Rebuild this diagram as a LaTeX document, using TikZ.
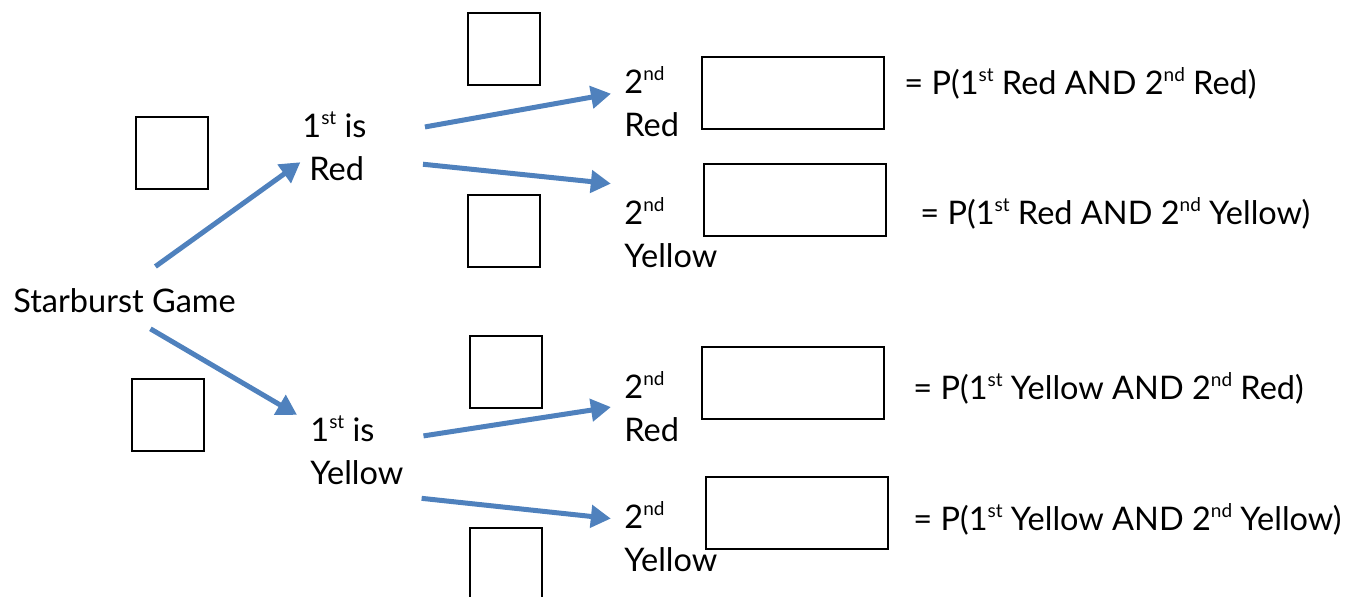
\documentclass[tikz,border=0pt]{standalone}
\usepackage{fontspec}
\setmainfont{Lato}
\usetikzlibrary{arrows.meta}

\definecolor{arrowblue}{RGB}{79,129,189}
\newcommand{\ordsup}[1]{\raisebox{6.6pt}{\fontsize{9.5}{9.5}\selectfont #1}}

\tikzset{
  lbl/.style={inner sep=0pt, align=left, font=\fontsize{16.25}{21.5}\selectfont},
  arr/.style={draw=arrowblue, line width=2.5pt, -{Triangle[length=10pt,width=11pt]}},
  smallbox/.style={draw, line width=1pt, minimum size=36pt, inner sep=0pt},
  bigbox/.style={draw, line width=1pt, minimum width=91pt, minimum height=36pt, inner sep=0pt}
}

\begin{document}
\begin{tikzpicture}[x=0.5pt, y=-0.5pt]
      \clip (0,0) rectangle (1357,597);

      % Root
      \node[lbl, anchor=base west] (game) at (13,313) {Starburst Game};

      % First pick (base = last line)
      \node[lbl, anchor=base west] (r1) at (302,181) {1\ordsup{st} is\\\hspace{3.5pt}Red};
      \node[lbl, anchor=base west] (y1) at (310,485) {1\ordsup{st} is\\Yellow};

      % Second pick
      \node[lbl, anchor=base west] (r2) at (624,137) {2\ordsup{nd}\\Red};
      \node[lbl, anchor=base west] (y2) at (624,268) {2\ordsup{nd}\\Yellow};
      \node[lbl, anchor=base west] (r3) at (624,442) {2\ordsup{nd}\\Red};
      \node[lbl, anchor=base west] (y3) at (624,572) {2\ordsup{nd}\\Yellow};

      % Blank boxes for the probabilities
      \node[smallbox] (pr1) at (171.5,153.5) {};
      \node[smallbox] (py1) at (168,415.5) {};
      \node[smallbox] (prr) at (504,49) {};
      \node[smallbox] (pry) at (504,231) {};
      \node[smallbox] (pyr) at (506,372.5) {};
      \node[smallbox] (pyy) at (506,564) {};

      % Products
      \node[bigbox] (brr) at (793,93) {};
      \node[bigbox] (bry) at (795,200.5) {};
      \node[bigbox] (byr) at (793,383) {};
      \node[bigbox] (byy) at (796.5,513.5) {};

      \node[lbl, anchor=base west] (err) at (904,95) {= P(1\ordsup{st} Red AND 2\ordsup{nd} Red)};
      \node[lbl, anchor=base west] (ery) at (920,225) {= P(1\ordsup{st} Red AND 2\ordsup{nd} Yellow)};
      \node[lbl, anchor=base west] (eyr) at (913,400) {= P(1\ordsup{st} Yellow AND 2\ordsup{nd} Red)};
      \node[lbl, anchor=base west] (eyy) at (913,531) {= P(1\ordsup{st} Yellow AND 2\ordsup{nd} Yellow)};

      % Branches
      \draw[arr, shorten <=19pt, shorten >=1pt] (game.north) -- (r1.204);
      \draw[arr, shorten <=15pt, shorten >=7.5pt] (game.south) -- (y1.149);
      \draw[arr, shorten <=29.5pt, shorten >=6.6pt] (r1.16) -- (r2.159);
      \draw[arr, shorten <=28.2pt, shorten >=6.6pt] (r1.340) -- ([yshift=6.2pt]y2.north west);
      \draw[arr, shorten <=10pt, shorten >=6.6pt] (y1.14) -- (r3.176);
      \draw[arr, shorten <=9pt, shorten >=6.6pt] ([yshift=-5.4pt]y1.south east) -- (y3.160);
    \end{tikzpicture}
\end{document}
